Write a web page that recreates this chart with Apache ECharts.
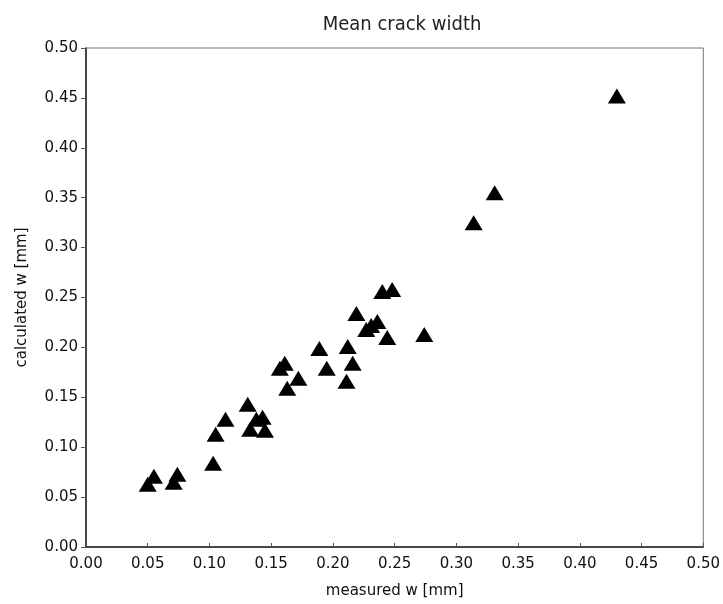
<!DOCTYPE html>
<html>
<head>
<meta charset="utf-8">
<script src="https://cdn.jsdelivr.net/npm/echarts@6/dist/echarts.min.js"></script>
<style>
  html, body { margin: 0; padding: 0; background: #fff; }
  #chart { width: 723px; height: 604px; }
</style>
</head>
<body>
<div id="chart"></div>
<script>
// measured crack width [mm]
const measured = [
  0.050, 0.055, 0.071, 0.074, 0.103, 0.105, 0.113, 0.131,
  0.133, 0.138, 0.143, 0.145, 0.161, 0.157, 0.163, 0.172,
  0.189, 0.195, 0.212, 0.216, 0.211, 0.219, 0.227, 0.231,
  0.236, 0.244, 0.274, 0.240, 0.248, 0.314, 0.331, 0.430
];
// calculated crack width [mm]
const calculated = [
  0.063, 0.071, 0.065, 0.073, 0.084, 0.113, 0.128, 0.143,
  0.118, 0.128, 0.130, 0.117, 0.184, 0.179, 0.159, 0.169,
  0.199, 0.179, 0.201, 0.184, 0.166, 0.234, 0.218, 0.222,
  0.226, 0.210, 0.213, 0.256, 0.258, 0.325, 0.355, 0.452
];

const labelFont = "'DejaVu Sans', Lato, sans-serif";

const chart = echarts.init(document.getElementById("chart"));
chart.setOption({
  backgroundColor: "#fff",
  animation: false,
  title: {
    text: "Mean crack width",
    left: 397,
    textAlign: "center",
    top: 10,
    textStyle: {
      fontFamily: "'DejaVu Sans Condensed', 'Liberation Sans Narrow', sans-serif",
      fontWeight: "lighter",
      fontSize: 20,
      color: "#222"
    }
  },
  grid: {
    left: 86,
    right: 19,
    top: 48,
    bottom: 55,
    show: true,
    borderColor: "#777",
    borderWidth: 1
  },
  xAxis: {
    type: "value",
    min: 0,
    max: 0.5,
    interval: 0.05,
    name: "measured w [mm]",
    nameLocation: "middle",
    nameGap: 37,
    nameTextStyle: { fontFamily: labelFont, fontSize: 15, color: "#111" },
    axisLine: { lineStyle: { color: "#222", width: 1.5 } },
    axisTick: { inside: true, length: 4, lineStyle: { color: "#555" } },
    axisLabel: {
      fontFamily: labelFont,
      fontSize: 15,
      color: "#111",
      margin: 10,
      formatter: (v) => v.toFixed(2)
    },
    splitLine: { show: false }
  },
  yAxis: {
    type: "value",
    min: 0,
    max: 0.5,
    interval: 0.05,
    name: "calculated w [mm]",
    nameLocation: "middle",
    nameGap: 56,
    nameTextStyle: { fontFamily: labelFont, fontSize: 15, color: "#111" },
    axisLine: { lineStyle: { color: "#222", width: 1.5 } },
    axisTick: { length: 5, lineStyle: { color: "#555" } },
    axisLabel: {
      fontFamily: labelFont,
      fontSize: 15,
      color: "#111",
      margin: 8,
      formatter: (v) => v.toFixed(2)
    },
    splitLine: { show: false }
  },
  series: [
    {
      type: "scatter",
      symbol: "triangle",
      symbolSize: [18, 15],
      itemStyle: { color: "#000", opacity: 1 },
      data: measured.map((x, i) => [x, calculated[i]])
    }
  ]
});
</script>
</body>
</html>
